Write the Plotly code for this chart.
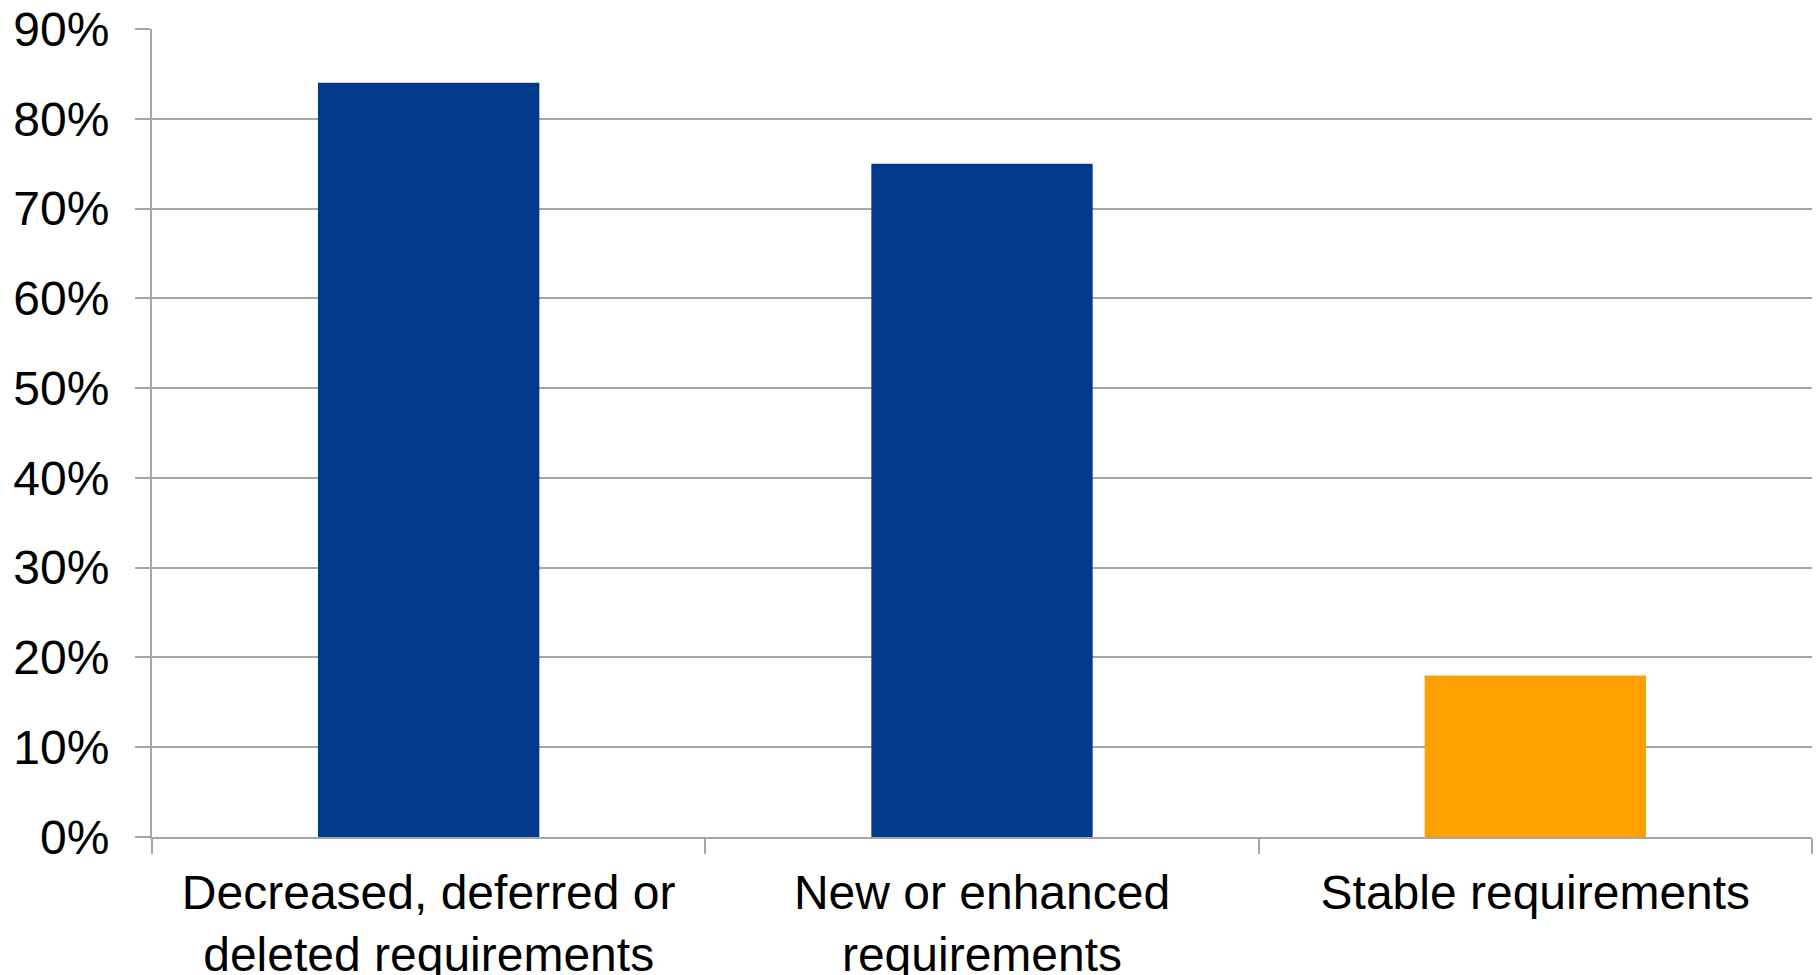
import plotly.graph_objects as go

# Share of projects by requirements change category
categories = [
    "Decreased, deferred or<br>deleted requirements",
    "New or enhanced<br>requirements",
    "Stable requirements",
]
shares = [0.84, 0.75, 0.18]
bar_colors = ["#023A8B", "#023A8B", "#FEA100"]

y_ticks = [0.0, 0.1, 0.2, 0.3, 0.4, 0.5, 0.6, 0.7, 0.8, 0.9]
y_tick_labels = ["0%", "10%", "20%", "30%", "40%", "50%", "60%", "70%", "80%", "90%"]

grid_color = "#A6A6A6"
font_family = "Liberation Sans, Arial, sans-serif"
label_size = 48

fig = go.Figure(
    go.Bar(
        x=categories,
        y=shares,
        marker=dict(color=bar_colors, line=dict(width=0)),
        hoverinfo="skip",
    )
)

fig.update_layout(
    width=1820,
    height=975,
    margin=dict(l=152, r=8, t=29, b=138, autoexpand=False),
    paper_bgcolor="white",
    plot_bgcolor="white",
    bargap=0.6,
    showlegend=False,
    font=dict(family=font_family, size=label_size, color="black"),
)

fig.update_xaxes(
    type="category",
    showgrid=False,
    showline=True,
    linecolor=grid_color,
    linewidth=2,
    ticks="outside",
    tickson="boundaries",
    ticklen=15,
    tickwidth=2,
    tickcolor=grid_color,
    ticklabelstandoff=12,
    tickfont=dict(family=font_family, size=label_size, color="black"),
)

fig.update_yaxes(
    range=[0, 0.9],
    tickvals=y_ticks,
    ticktext=y_tick_labels,
    showgrid=True,
    gridcolor=grid_color,
    gridwidth=2,
    showline=True,
    linecolor=grid_color,
    linewidth=2,
    ticks="outside",
    ticklen=15,
    tickwidth=2,
    tickcolor=grid_color,
    ticklabelstandoff=16,
    zeroline=False,
    tickfont=dict(family=font_family, size=label_size, color="black"),
)

fig.write_html("out.html")
